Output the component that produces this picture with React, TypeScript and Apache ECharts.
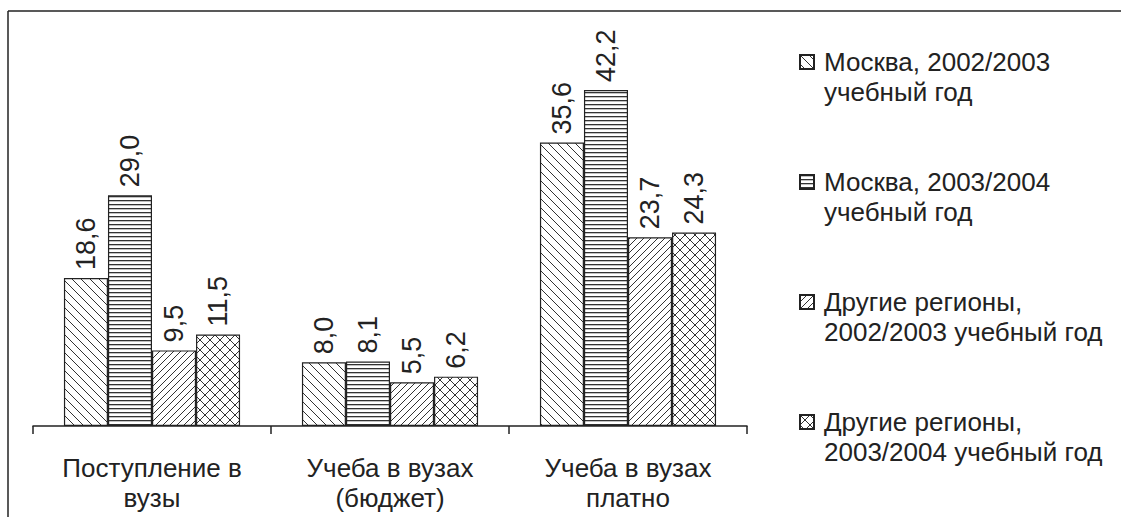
import React, { useEffect, useRef } from "react";
import * as echarts from "echarts";

const categories = ["Поступление в\nвузы", "Учеба в вузах\n(бюджет)", "Учеба в вузах\nплатно"];
const seriesNames = [
  "Москва, 2002/2003\nучебный год",
  "Москва, 2003/2004\nучебный год",
  "Другие регионы,\n2002/2003 учебный год",
  "Другие регионы,\n2003/2004 учебный год",
];
const moscow2002 = [18.6, 8.0, 35.6];
const moscow2003 = [29.0, 8.1, 42.2];
const regions2002 = [9.5, 5.5, 23.7];
const regions2003 = [11.5, 6.2, 24.3];

const INK = "#222";
const FONT = "Liberation Sans";

function makePattern(kind: string) {
  const size = kind === "h" ? 4 : kind === "fwd" ? 7 : kind === "cross" ? 10 : 9;
  const c = document.createElement("canvas");
  c.width = size;
  c.height = size;
  const ctx = c.getContext("2d")!;
  ctx.fillStyle = "#fff";
  ctx.fillRect(0, 0, size, size);
  ctx.strokeStyle = "#333";
  ctx.fillStyle = "#333";
  ctx.lineWidth = 1;
  const back = () => {
    ctx.beginPath();
    ctx.moveTo(-1, -1);
    ctx.lineTo(size + 1, size + 1);
    ctx.stroke();
  };
  const fwd = () => {
    ctx.beginPath();
    ctx.moveTo(-1, size + 1);
    ctx.lineTo(size + 1, -1);
    ctx.stroke();
  };
  if (kind === "h") {
    ctx.fillRect(0, 0, size, 1.3);
  } else if (kind === "back") {
    back();
  } else if (kind === "fwd") {
    fwd();
  } else {
    back();
    fwd();
  }
  return { image: c.toDataURL(), repeat: "repeat", imageWidth: size, imageHeight: size } as any;
}

export default function App() {
  const ref = useRef<HTMLDivElement>(null);
  useEffect(() => {
    const chart = echarts.init(ref.current!, null, { renderer: "svg" });
    const patterns = [makePattern("back"), makePattern("h"), makePattern("fwd"), makePattern("cross")];
    const datasets = [moscow2002, moscow2003, regions2002, regions2003];
    chart.setOption({
      animation: false,
      backgroundColor: "#fff",
      textStyle: { fontFamily: FONT, color: INK },
      grid: { left: 33, right: 374, top: 28, bottom: 91, containLabel: false },
      xAxis: {
        type: "category",
        data: categories,
        axisLine: { lineStyle: { color: INK, width: 1.5 } },
        axisTick: { show: true, length: 8, lineStyle: { color: INK, width: 1.5 } },
        axisLabel: { color: INK, fontSize: 26, lineHeight: 30, margin: 27, fontFamily: FONT, interval: 0 },
      },
      yAxis: { type: "value", min: 0, max: 50, show: false, splitLine: { show: false } },
      legend: {
        orient: "vertical",
        left: 799,
        top: 17,
        padding: 0,
        itemGap: 30,
        itemWidth: 14,
        itemHeight: 14,
        icon: "rect",
        textStyle: { color: INK, fontSize: 26, lineHeight: 30, fontFamily: FONT, padding: [0, 0, 0, 5] },
        formatter: (name: string) => " \n" + name,
        data: seriesNames,
      },
      graphic: [
        { type: "line", shape: { x1: 8, y1: 11, x2: 1121, y2: 11 }, style: { stroke: INK, lineWidth: 1.5 } },
        { type: "line", shape: { x1: 8, y1: 11, x2: 8, y2: 517 }, style: { stroke: INK, lineWidth: 1.5 } },
      ],
      series: datasets.map((d, i) => ({
        type: "bar",
        name: seriesNames[i],
        data: d,
        barGap: "0%",
        barCategoryGap: "26%",
        itemStyle: { color: patterns[i], borderColor: INK, borderWidth: 1.2 },
        label: {
          show: true,
          position: "top",
          rotate: 90,
          align: "left",
          verticalAlign: "middle",
          distance: 8,
          fontSize: 27,
          fontFamily: FONT,
          color: INK,
          formatter: (p: any) => p.value.toFixed(1).replace(".", ","),
        },
      })),
    });
    return () => chart.dispose();
  }, []);
  return <div ref={ref} style={{ position: "fixed", left: 0, top: 0, width: 1121, height: 517 }} />;
}
